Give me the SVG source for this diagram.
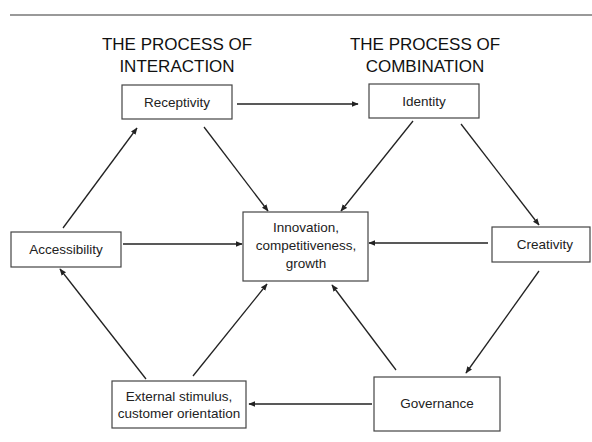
<svg xmlns="http://www.w3.org/2000/svg" width="592" height="442" viewBox="0 0 592 442">
<defs>
<style>
.box{fill:#fff;stroke:#444;stroke-width:1.2}
.t{font-family:"Liberation Sans",Arial,sans-serif;font-size:13.5px;fill:#222;text-anchor:middle}
.h{font-family:"Liberation Sans",Arial,sans-serif;font-size:17px;fill:#111;text-anchor:middle}
.c{stroke:#222;stroke-width:1.3;fill:none;marker-end:url(#ah)}
</style>
<marker id="ah" viewBox="0 0 10 10" refX="9" refY="5" markerWidth="7" markerHeight="7" markerUnits="userSpaceOnUse" orient="auto">
<path d="M0,1 L10,5 L0,9 z" fill="#222"/>
</marker>
</defs>
<rect width="592" height="442" fill="#fff"/>
<line x1="10" y1="15" x2="592" y2="15" stroke="#777" stroke-width="1.6"/>
<g id="titles">
<text class="h" x="177" y="50">THE PROCESS OF</text>
<text class="h" x="177" y="72">INTERACTION</text>
<text class="h" x="425" y="50">THE PROCESS OF</text>
<text class="h" x="425" y="72">COMBINATION</text>
</g>
<g id="connectors">
<line class="c" x1="237" y1="104" x2="358" y2="104"/>
<line class="c" x1="63" y1="228" x2="137" y2="128"/>
<line class="c" x1="204" y1="127" x2="268" y2="211"/>
<line class="c" x1="413" y1="121" x2="341" y2="211"/>
<line class="c" x1="461" y1="124" x2="539" y2="225"/>
<line class="c" x1="123" y1="244" x2="242" y2="244"/>
<line class="c" x1="488" y1="243" x2="369" y2="243"/>
<line class="c" x1="539" y1="271" x2="466" y2="373"/>
<line class="c" x1="396" y1="370" x2="332" y2="285"/>
<line class="c" x1="193" y1="376" x2="267" y2="284"/>
<line class="c" x1="146" y1="379" x2="60" y2="269"/>
<line class="c" x1="372" y1="404" x2="249" y2="404"/>
</g>
<g id="receptivity">
<rect class="box" x="122" y="85" width="110" height="34"/>
<text class="t" x="177" y="107">Receptivity</text>
</g>
<g id="identity">
<rect class="box" x="369" y="84" width="110" height="34"/>
<text class="t" x="424" y="106">Identity</text>
</g>
<g id="accessibility">
<rect class="box" x="11" y="232" width="110" height="35"/>
<text class="t" x="66" y="254">Accessibility</text>
</g>
<g id="innovation">
<rect class="box" x="243" y="212" width="125" height="69"/>
<text class="t" x="306" y="232">Innovation,</text>
<text class="t" x="306" y="250">competitiveness,</text>
<text class="t" x="306" y="268">growth</text>
</g>
<g id="creativity">
<rect class="box" x="492" y="227" width="98" height="35"/>
<text class="t" x="545" y="249">Creativity</text>
</g>
<g id="external">
<rect class="box" x="112" y="381" width="134" height="47"/>
<text class="t" x="179" y="401">External stimulus,</text>
<text class="t" x="179" y="418">customer orientation</text>
</g>
<g id="governance">
<rect class="box" x="374" y="377" width="126" height="54"/>
<text class="t" x="437" y="408">Governance</text>
</g>
</svg>
